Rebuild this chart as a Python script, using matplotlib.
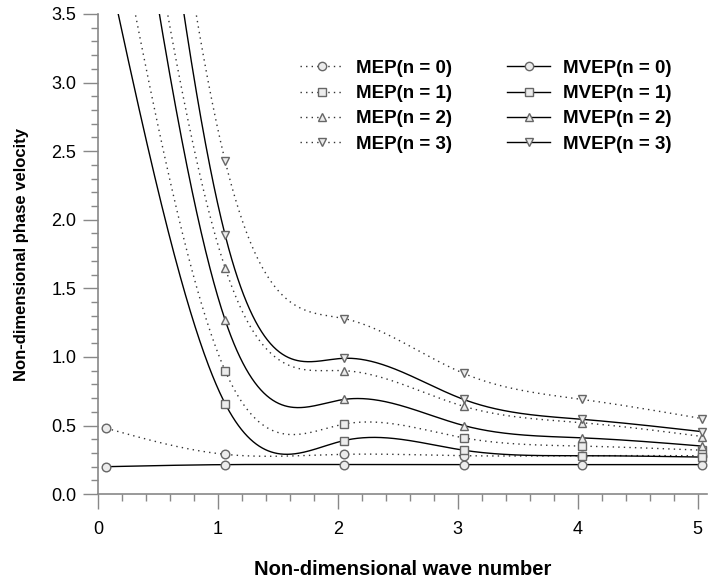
import numpy as np
import matplotlib
matplotlib.use("Agg")
import matplotlib.pyplot as plt
from matplotlib.lines import Line2D
from matplotlib.ticker import MultipleLocator, FormatStrFormatter

plt.rcParams['font.family'] = ['Liberation Sans', 'DejaVu Sans']

# wave numbers
k = [0.07, 1.06, 2.05, 3.05, 4.04, 5.04]

mep_n0 = [0.48, 0.29, 0.29, 0.28, 0.28, 0.28]
mep_n1 = [4.6, 0.90, 0.51, 0.41, 0.35, 0.32]
mep_n2 = [6.25, 1.65, 0.90, 0.64, 0.52, 0.42]
mep_n3 = [8.5, 2.43, 1.28, 0.88, 0.69, 0.55]

mvep_n0 = [0.20, 0.215, 0.215, 0.215, 0.215, 0.215]
mvep_n1 = [3.9, 0.66, 0.39, 0.32, 0.28, 0.27]
mvep_n2 = [6.0, 1.27, 0.69, 0.50, 0.41, 0.35]
mvep_n3 = [8.0, 1.89, 0.99, 0.69, 0.545, 0.455]

mep_labels = ['MEP(n = 0)', 'MEP(n = 1)', 'MEP(n = 2)', 'MEP(n = 3)']
mvep_labels = ['MVEP(n = 0)', 'MVEP(n = 1)', 'MVEP(n = 2)', 'MVEP(n = 3)']
markers = ['o', 's', '^', 'v']


def natural_spline(x, y, xs):
    x = np.asarray(x, float)
    y = np.asarray(y, float)
    n = len(x)
    h = np.diff(x)
    A = np.zeros((n, n))
    b = np.zeros(n)
    A[0, 0] = 1
    A[-1, -1] = 1
    for i in range(1, n - 1):
        A[i, i - 1] = h[i - 1]
        A[i, i] = 2 * (h[i - 1] + h[i])
        A[i, i + 1] = h[i]
        b[i] = 6 * ((y[i + 1] - y[i]) / h[i] - (y[i] - y[i - 1]) / h[i - 1])
    M = np.linalg.solve(A, b)
    idx = np.clip(np.searchsorted(x, xs) - 1, 0, n - 2)
    x0, x1 = x[idx], x[idx + 1]
    hh = x1 - x0
    t0 = x1 - xs
    t1 = xs - x0
    return (M[idx] * t0 ** 3 / (6 * hh) + M[idx + 1] * t1 ** 3 / (6 * hh)
            + (y[idx] / hh - M[idx] * hh / 6) * t0
            + (y[idx + 1] / hh - M[idx + 1] * hh / 6) * t1)


fig = plt.figure(figsize=(7.10, 5.82), dpi=100)
ax = fig.add_axes([0.138, 0.151, 0.858, 0.825])

xs = np.linspace(k[0], k[-1], 800)
mcol = '#666666'
mfc = '#ececec'
dots = (0, (1, 3))

mep = [mep_n0, mep_n1, mep_n2, mep_n3]
mvep = [mvep_n0, mvep_n1, mvep_n2, mvep_n3]

for vals, m in zip(mep, markers):
    ax.plot(xs, natural_spline(k, vals, xs), color='#333333', lw=1.0,
            linestyle=dots)
    ax.plot(k, vals, linestyle='none', marker=m, ms=6.2, mfc=mfc,
            mec=mcol, mew=1.0, clip_on=False, zorder=3)

for vals, m in zip(mvep, markers):
    ax.plot(xs, natural_spline(k, vals, xs), color='black', lw=1.0)
    ax.plot(k, vals, linestyle='none', marker=m, ms=6.2, mfc=mfc,
            mec=mcol, mew=1.0, clip_on=False, zorder=3)

ax.set_xlim(0, 5.08)
ax.set_ylim(0, 3.5)

for s in ['top', 'right']:
    ax.spines[s].set_visible(False)
for s in ['left', 'bottom']:
    ax.spines[s].set_color('#888888')
    ax.spines[s].set_linewidth(1.2)

ax.xaxis.set_major_locator(MultipleLocator(1))
ax.xaxis.set_minor_locator(MultipleLocator(0.2))
ax.yaxis.set_major_locator(MultipleLocator(0.5))
ax.yaxis.set_minor_locator(MultipleLocator(0.1))
ax.yaxis.set_major_formatter(FormatStrFormatter('%.1f'))
ax.tick_params(which='major', length=10.5, width=1.0, color='#888888',
               labelsize=13)
ax.tick_params(which='minor', length=5, width=1.0, color='#888888')
ax.tick_params(axis='y', which='major', pad=5)
ax.tick_params(axis='x', which='major', pad=9)

ax.set_xlabel('Non-dimensional wave number', fontsize=14.5, fontweight='bold',
              labelpad=16)
ax.set_ylabel('Non-dimensional phase velocity', fontsize=12, fontweight='bold',
              labelpad=16)

h1 = [Line2D([], [], color='#333333', lw=1.0, linestyle=dots, marker=m,
             ms=6, mfc=mfc, mec=mcol) for m in markers]
h2 = [Line2D([], [], color='black', lw=1.0, marker=m,
             ms=6, mfc=mfc, mec=mcol) for m in markers]
legprops = dict(frameon=False, prop={'weight': 'bold', 'size': 13.5},
                handlelength=2.3, labelspacing=0.44, handletextpad=0.65,
                borderaxespad=0, borderpad=0)
leg1 = ax.legend(h1, mep_labels, loc='upper left',
                 bbox_to_anchor=(0.332, 0.905), **legprops)
ax.add_artist(leg1)
ax.legend(h2, mvep_labels, loc='upper left',
          bbox_to_anchor=(0.672, 0.905), **legprops)

fig.savefig('out.png', dpi=100)
